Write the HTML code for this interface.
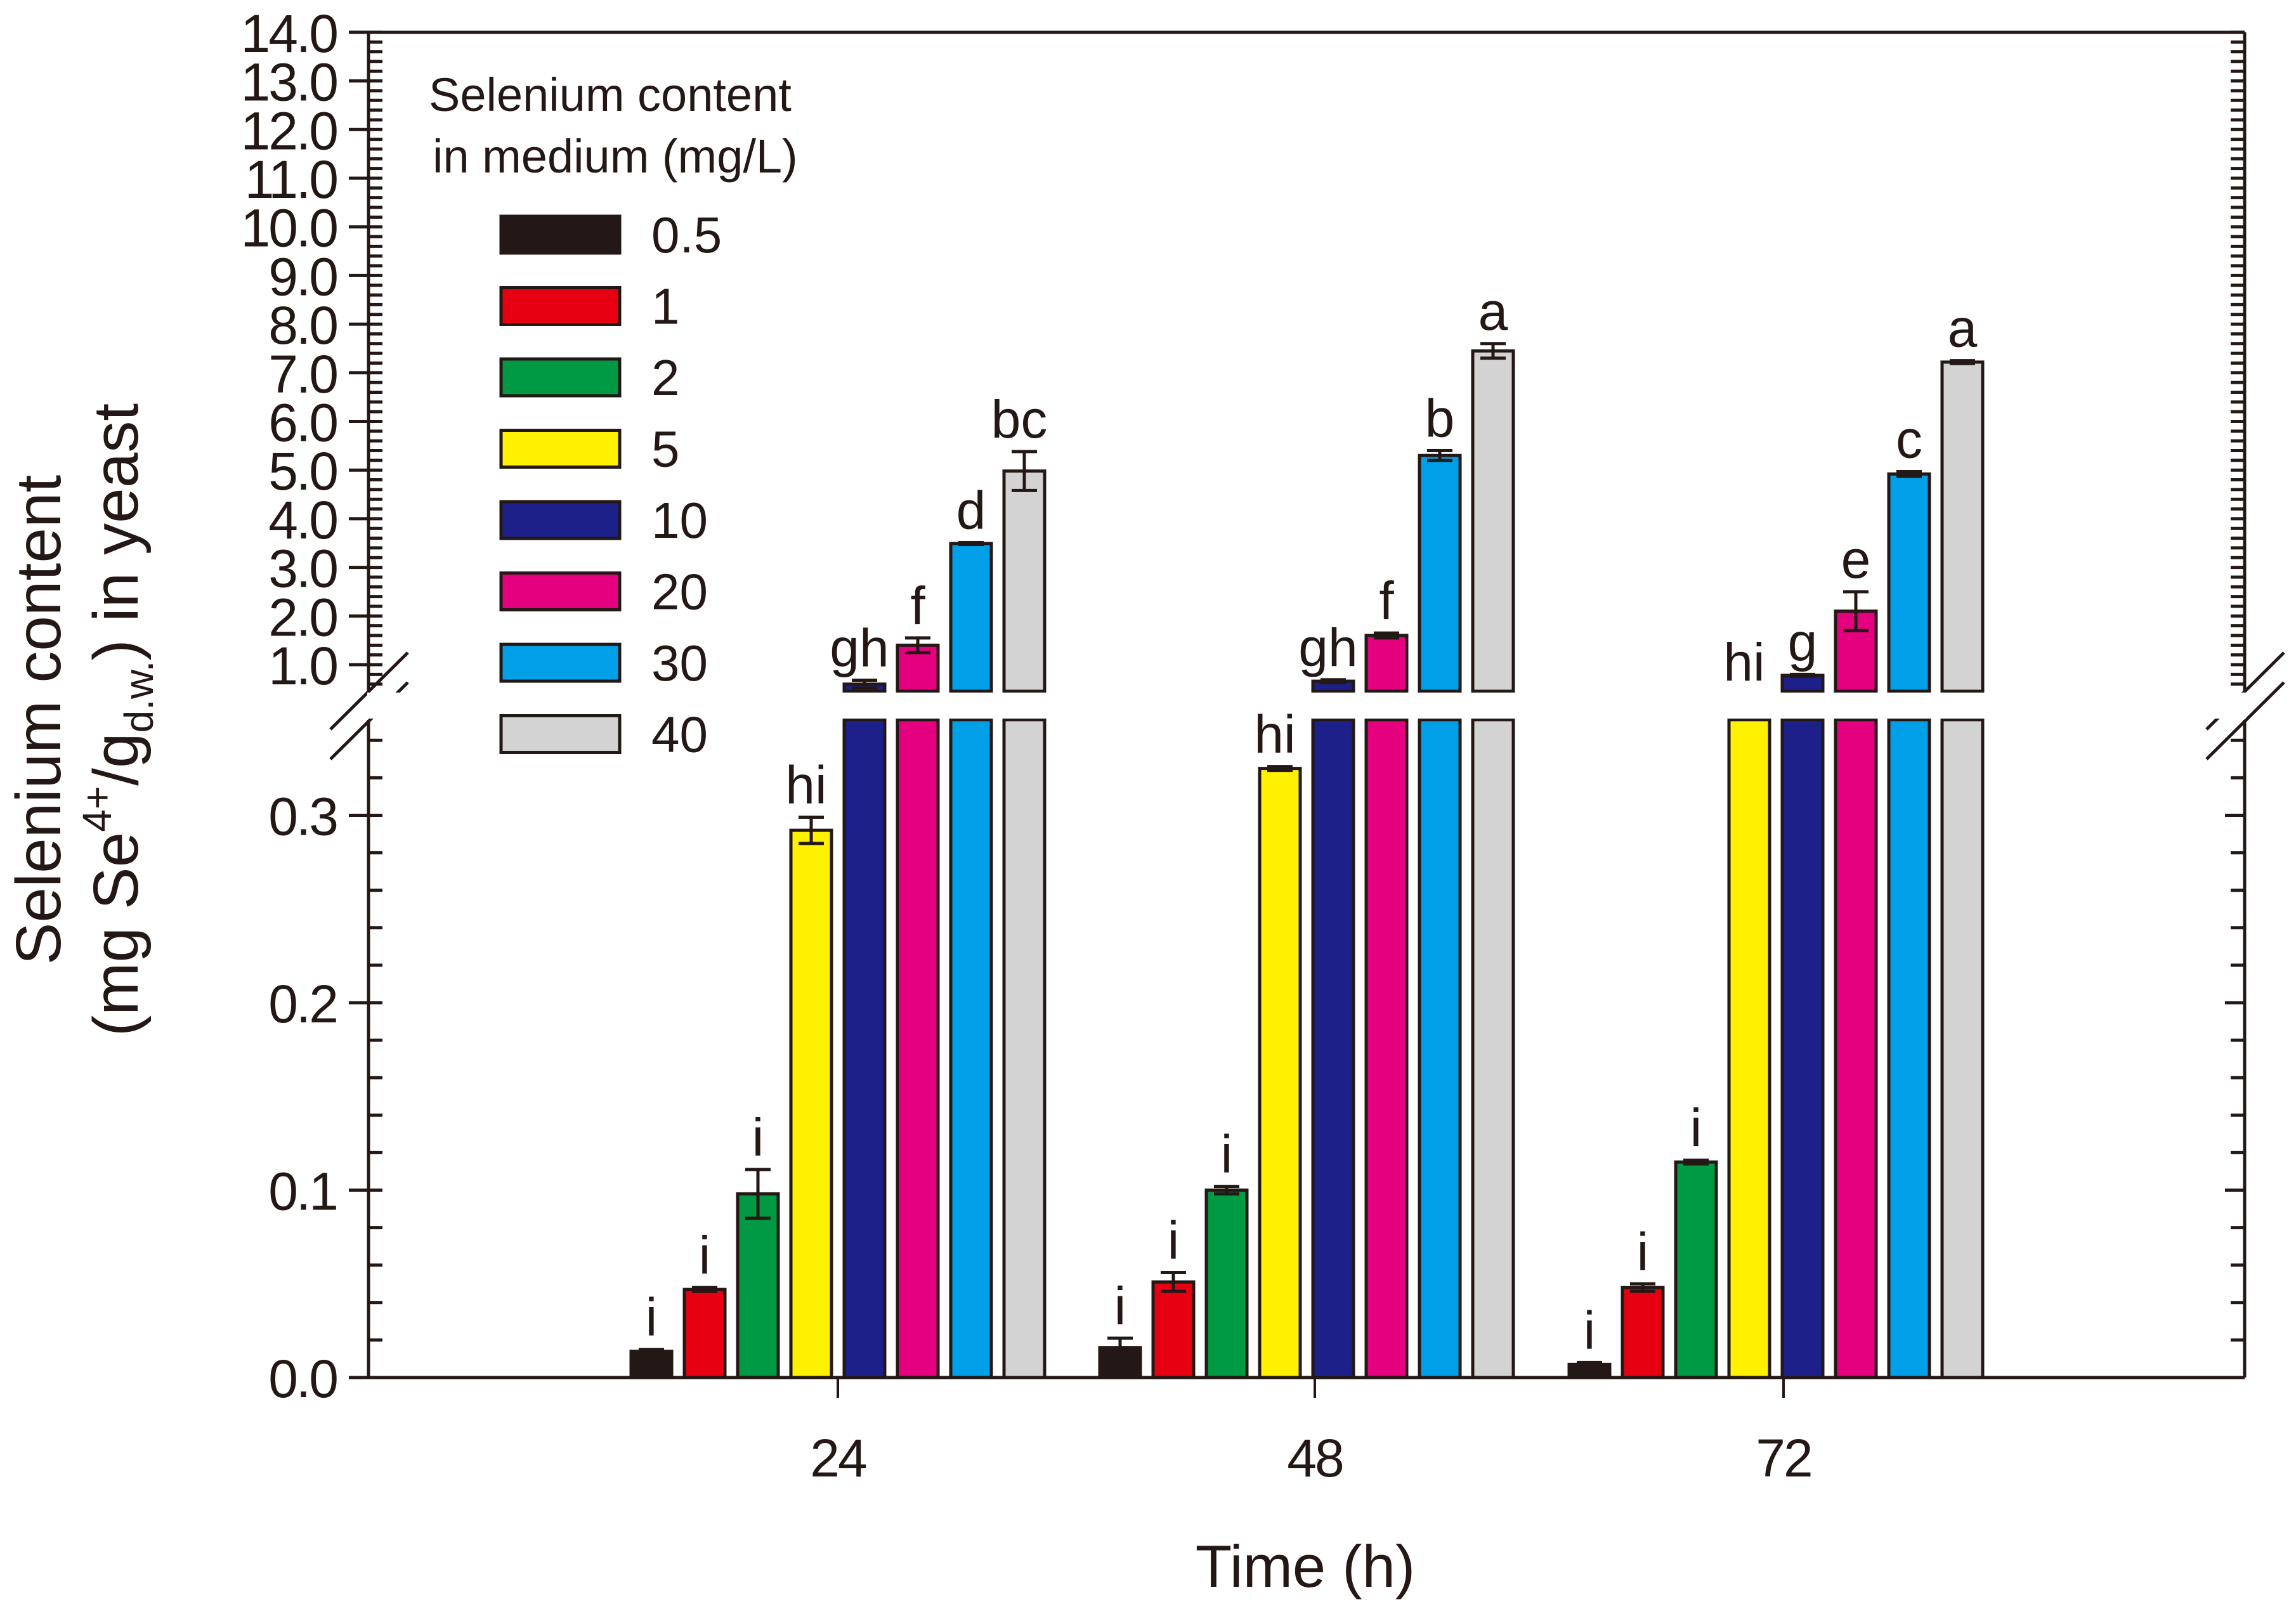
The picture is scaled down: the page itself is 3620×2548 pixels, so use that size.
<!DOCTYPE html>
<html><head><meta charset="utf-8"><style>
body{margin:0;background:#fff}
svg{display:block;font-family:"Liberation Sans",Arial,sans-serif}
</style></head><body>
<svg id="chart" width="3620" height="2548" viewBox="0 0 3620 2548" xmlns="http://www.w3.org/2000/svg">
<g id="axes"></g>
<g id="bars"></g>
<g id="labels"></g>
<g id="legend"></g>
<text x="2058" y="2502" font-size="94" text-anchor="middle" fill="#231815">Time (h)</text>
<g transform="translate(95,1135) rotate(-90)" fill="#231815" font-size="100" text-anchor="middle">
<text x="0" y="0">Selenium content</text>
<text x="0" y="122">(mg Se<tspan font-size="64" dy="-42">4+</tspan><tspan dy="42">/g</tspan><tspan font-size="64" dy="24">d.w.</tspan><tspan dy="-24">) in yeast</tspan></text>
</g>
</svg>
<script>
const times = ["24","48","72"];
const concentrations = ["0.5","1","2","5","10","20","30","40"];
const colors = ["#231815","#e60012","#009944","#fff100","#1d2088","#e4007f","#00a0e9","#d3d3d3"];
const values = [
 [0.014,0.047,0.098,0.292,0.60,1.40,3.49,4.98],
 [0.016,0.051,0.100,0.325,0.66,1.60,5.30,7.45],
 [0.007,0.048,0.115,0.45,0.78,2.10,4.92,7.22]
];
const errors = [
 [0.001,0.001,0.013,0.007,0.08,0.15,0.02,0.40],
 [0.005,0.005,0.002,0.001,0.03,0.05,0.10,0.15],
 [0.001,0.002,0.001,0.001,0.02,0.40,0.05,0.03]
];
const letters = [
 ["i","i","i","hi","gh","f","d","bc"],
 ["i","i","i","hi","gh","f","b","a"],
 ["i","i","i","hi","g","e","c","a"]
];
const upperTicks = ["1.0","2.0","3.0","4.0","5.0","6.0","7.0","8.0","9.0","10.0","11.0","12.0","13.0","14.0"];
const lowerTicks = ["0.0","0.1","0.2","0.3"];

const NS="http://www.w3.org/2000/svg";
const X0=581, X1=3539, Y0=2172, YTOP=51;
const LOW_TOP=1135, UP_BOT=1090, BREAK_LO=0.351, BREAK_HI=0.48;
function yLow(v){return Y0-v*2955;}
function yUp(v){return 1048-(v-1)*76.7;}
const tickCenter=[1321,2073,2812];
const barCenter=[1321,2060,2800];
function xTick(i){return tickCenter[i];}
function xGroup(i){return barCenter[i];}
const PITCH=84, BW=64;
function mk(tag,attrs,parent){const e=document.createElementNS(NS,tag);for(const k in attrs)e.setAttribute(k,attrs[k]);parent.appendChild(e);return e;}
const axes=document.getElementById('axes'), bars=document.getElementById('bars'), labels=document.getElementById('labels'), legend=document.getElementById('legend');
const ink="#231815";
let l;
l=mk('line',{x1:X0,y1:Y0,x2:X1,y2:Y0,stroke:ink,'stroke-width':5},axes);


l=mk('line',{x1:X0-30,y1:YTOP,x2:X1,y2:YTOP,stroke:ink,'stroke-width':5},axes);


[[X0],[X1]].forEach(([x],k)=>{
 let a=mk('line',{x1:x,y1:YTOP,x2:x,y2:UP_BOT,stroke:ink,'stroke-width':5},axes);
 
 
 let b=mk('line',{x1:x,y1:LOW_TOP,x2:x,y2:Y0,stroke:ink,'stroke-width':5},axes);
 
 
});
for(let v=0.6;v<=14.001;v+=0.2){
 const y=yUp(v); if(y>UP_BOT-3) continue;
 mk('line',{x1:X0,y1:y,x2:X0+22,y2:y,stroke:ink,'stroke-width':5},axes);
 mk('line',{x1:X1,y1:y,x2:X1-22,y2:y,stroke:ink,'stroke-width':5},axes);
}
upperTicks.forEach(t=>{
 const y=yUp(parseFloat(t));
 mk('line',{x1:X0-31,y1:y,x2:X0,y2:y,stroke:ink,'stroke-width':5},axes);
 const tx=mk('text',{x:X0-50,y:y+31,'font-size':84,'text-anchor':'end',fill:ink,'letter-spacing':-3},axes);
 tx.textContent=t;
 
 
});
for(let v=0.02;v<BREAK_LO;v+=0.02){
 const y=yLow(v);
 mk('line',{x1:X0,y1:y,x2:X0+22,y2:y,stroke:ink,'stroke-width':5},axes);
 mk('line',{x1:X1,y1:y,x2:X1-22,y2:y,stroke:ink,'stroke-width':5},axes);
}
lowerTicks.forEach(t=>{
 const y=yLow(parseFloat(t));
 mk('line',{x1:X0-31,y1:y,x2:X0,y2:y,stroke:ink,'stroke-width':5},axes);
 mk('line',{x1:X1,y1:y,x2:X1-31,y2:y,stroke:ink,'stroke-width':5},axes);
 const tx=mk('text',{x:X0-50,y:y+31,'font-size':84,'text-anchor':'end',fill:ink,'letter-spacing':-3},axes);
 tx.textContent=t;
 
 
});
[X0,X1].forEach(x=>{
 [0,47].forEach(o=>{
  const bl=mk('line',{x1:x-60,y1:1150+o,x2:x+62,y2:1029+o,stroke:ink,'stroke-width':5},axes);
  
  
 });
});
times.forEach((t,i)=>{
 const x=xTick(i);
 mk('line',{x1:x,y1:Y0,x2:x,y2:Y0+32,stroke:ink,'stroke-width':4},axes);
 const tx=mk('text',{x:x,y:2328,'font-size':84,'text-anchor':'middle',fill:ink,'letter-spacing':-3},axes);
 tx.textContent=t;
 
 
});
values.forEach((row,g)=>{
 row.forEach((v,s)=>{
  const cx=xGroup(g)+(s-3.5)*PITCH, x=cx-BW/2;
  const e=errors[g][s];
  let topY, eT=null, eB=null;
  const lowTopV=Math.min(v,BREAK_LO);
  const r=mk('rect',{x:x,y:yLow(lowTopV),width:BW,height:Y0-yLow(lowTopV),fill:colors[s],stroke:ink,'stroke-width':5},bars);
  
  
  if(v<=BREAK_LO){topY=yLow(v); eT=yLow(v+e); eB=yLow(v-e);}
  else if(v>BREAK_HI){
   const u=mk('rect',{x:x,y:yUp(v),width:BW,height:UP_BOT-yUp(v),fill:colors[s],stroke:ink,'stroke-width':5},bars);
   
   
   topY=yUp(v); eT=yUp(v+e); eB=yUp(v-e);
  } else { topY=LOW_TOP-40; }
  if(eT!==null){
   const eg=mk('g',{stroke:ink,'stroke-width':5},bars);
   
   
   mk('line',{x1:cx,y1:eT,x2:cx,y2:eB},eg);
   mk('line',{x1:cx-20,y1:eT,x2:cx+20,y2:eT},eg);
   mk('line',{x1:cx-20,y1:eB,x2:cx+20,y2:eB},eg);
   topY=Math.min(eT,topY);
  }
  const lt=mk('text',{x:cx-(letters[g][s].length>1?8:0),y:topY-22,'font-size':84,'text-anchor':'middle',fill:ink},labels);
  lt.textContent=letters[g][s];
  
  
 });
});
const wb=mk('rect',{x:X0-2,y:UP_BOT+2,width:X1-X0+4,height:LOW_TOP-UP_BOT-4,fill:'#fff'},bars);


const lt1=mk('text',{x:676,y:175,'font-size':74,fill:ink},legend);lt1.textContent='Selenium content';


const lt2=mk('text',{x:682,y:272,'font-size':74,fill:ink},legend);lt2.textContent='in medium (mg/L)';


concentrations.forEach((c,i)=>{
 const cy=370+i*112.5;
 const sw=mk('rect',{x:790,y:cy-29,width:187,height:58,fill:colors[i],stroke:ink,'stroke-width':5},legend);
 
 
 const t=mk('text',{x:1027,y:cy+28,'font-size':80,fill:ink},legend);t.textContent=c;
 
 
});
</script>
</body></html>
